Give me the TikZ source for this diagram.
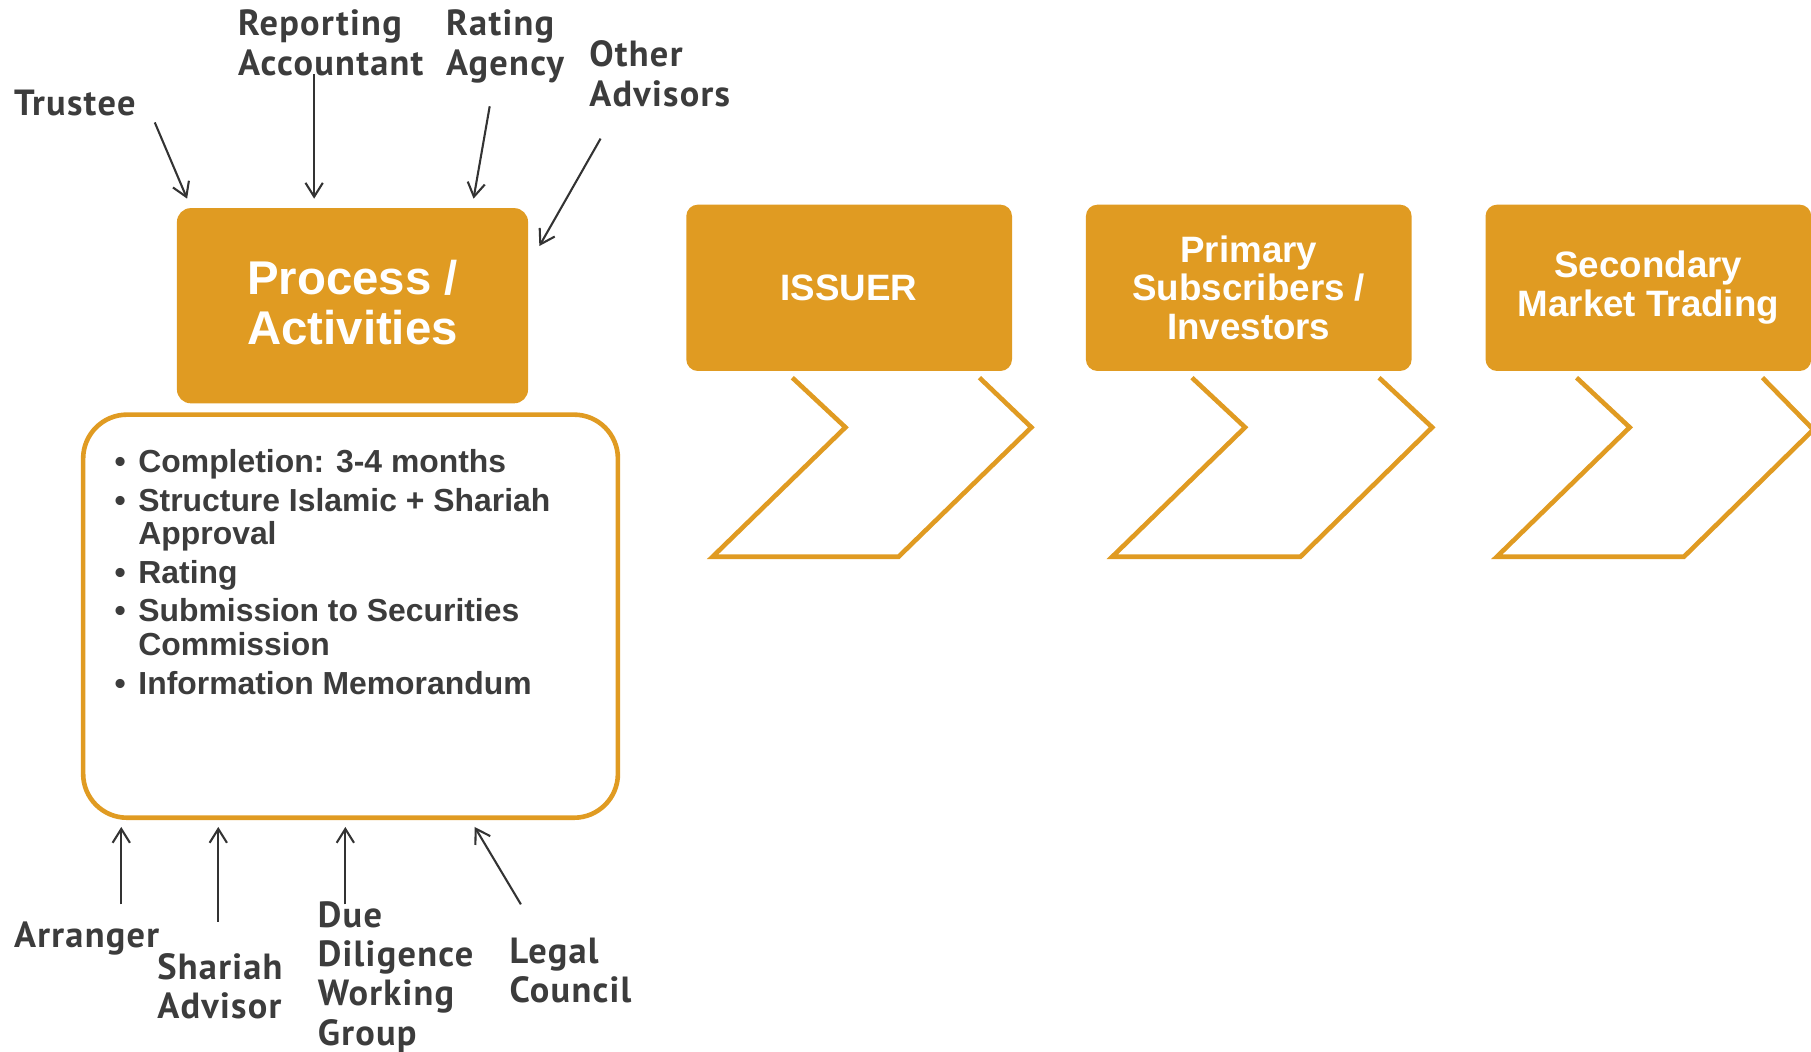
\documentclass[tikz,border=0pt]{standalone}
\usepackage{fontspec}
\setmainfont{Liberation Sans}
\newfontfamily\labfont[LetterSpace=3.5]{PT Sans}
\usetikzlibrary{arrows.meta}
\definecolor{gold}{HTML}{E09B22}
\definecolor{ink}{HTML}{3C3C3C}
\definecolor{lineink}{HTML}{333333}
\begin{document}
\begin{tikzpicture}[x=1pt,y=-1pt,
  lab/.style={inner sep=0pt, align=left, text=ink, font=\labfont\bfseries\fontsize{31.5}{34}\selectfont},
  goldbox/.style={fill=gold, draw=none, anchor=north west, minimum width=282pt, minimum height=144pt, rounded corners=10pt, text=white, align=center, font=\bfseries\fontsize{31.8}{33.5}\selectfont},
  feed/.style={draw=lineink, line width=1.8pt, -{Straight Barb[length=12pt,width=15pt,line width=1.8pt]}},
  chev/.style={draw=gold, line width=4pt, miter limit=10}]
\useasboundingbox (0,0) rectangle (1568,910);
% main boxes
\node[goldbox, minimum width=304pt, minimum height=169pt, rounded corners=12pt, font=\bfseries\fontsize{41}{44}\selectfont] (proc) at (153,180) {Process /\\Activities\rule[-6pt]{0pt}{1pt}};
\node[draw=gold, line width=4pt, rounded corners=38pt, anchor=north west, minimum width=463pt, minimum height=349pt] (act) at (70,357) {};
\node[anchor=base west, inner sep=0pt, text=ink, font=\bfseries\fontsize{27.6}{29}\selectfont] (list) at (99,409) {%
\begin{tabular}[t]{@{}l@{\hspace{11pt}}l@{}}
\textbullet & Completion: 3-4 months\\[4.5pt]
\textbullet & Structure Islamic + Shariah\\
 & Approval\\[4.5pt]
\textbullet & Rating\\[4.5pt]
\textbullet & Submission to Securities\\
 & Commission\\[4.5pt]
\textbullet & Information Memorandum
\end{tabular}};
\node[goldbox] (issuer) at (594,177) {ISSUER};
\node[goldbox] (primary) at (940,177) {Primary\\Subscribers /\\Investors};
\node[goldbox] (secondary) at (1286,177) {Secondary\\Market Trading};
% chevrons
\draw[chev] (686,327) -- (732,370) -- (617,482) -- (778,482) -- (893,370) -- (848,327);
\draw[chev] (1032,327) -- (1078,370) -- (963,482) -- (1126,482) -- (1240,370) -- (1194,327);
\draw[chev] (1365,327) -- (1411,370) -- (1296,482) -- (1458,482) -- (1570,372) -- (1526,327);
% top labels (anchor = baseline of last line)
\node[lab, anchor=base west] (trustee) at (12,100) {Trustee};
\node[lab, anchor=base west] (repacc) at (206,65) {Reporting\\Accountant};
\node[lab, anchor=base west] (rating) at (386,65) {Rating\\Agency};
\node[lab, anchor=base west] (other) at (510,92) {Other\\Advisors};
% bottom labels
\node[lab, anchor=base west] (arranger) at (12,820) {Arranger};
\node[lab, anchor=base west] (shariah) at (136,882) {Shariah\\Advisor};
\node[lab, anchor=base west] (ddwg) at (275,905) {Due\\Diligence\\Working\\Group};
\node[lab, anchor=base west] (legal) at (441,868) {Legal\\Council};
% arrow end points
\coordinate (t1) at (134,106); \coordinate (t2) at (162,172);
\coordinate (r1) at (272,64);  \coordinate (r2) at (272,172);
\coordinate (a1) at (424,92);  \coordinate (a2) at (410,172);
\coordinate (o1) at (520,120); \coordinate (o2) at (467,213);
\coordinate (b1) at (105,783); \coordinate (b2) at (105,716);
\coordinate (s1) at (189,798); \coordinate (s2) at (189,716);
\coordinate (d1) at (299,783); \coordinate (d2) at (299,716);
\coordinate (l1) at (451,783); \coordinate (l2) at (411,716);
\draw[feed] (t1) -- (t2);
\draw[feed] (r1) -- (r2);
\draw[feed] (a1) -- (a2);
\draw[feed] (o1) -- (o2);
\draw[feed] (b1) -- (b2);
\draw[feed] (s1) -- (s2);
\draw[feed] (d1) -- (d2);
\draw[feed] (l1) -- (l2);
\end{tikzpicture}
\end{document}
